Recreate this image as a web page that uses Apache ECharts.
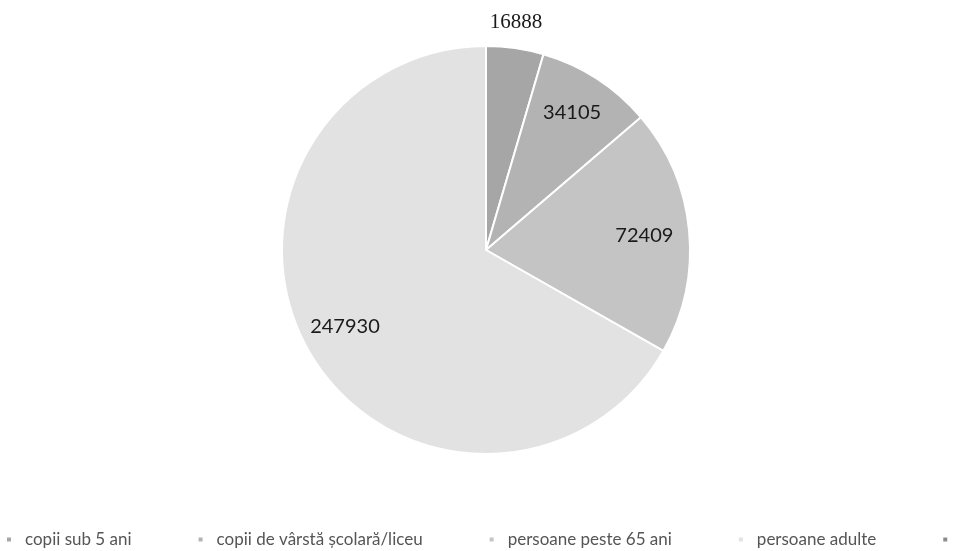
<!DOCTYPE html>
<html style="height: 100%">
    <head>
        <meta charset="utf-8">
        <title>Categorii populatie</title>
    </head>
    <body style="height: 100%; margin: 0; background: #fff">
        <div id="container" style="width: 959px; height: 551px"></div>

        <script type="text/javascript" src="https://cdn.jsdelivr.net/npm/echarts@6/dist/echarts.min.js"></script>
        <script type="text/javascript">
// categories and values
var categorii = ['copii sub 5 ani', 'copii de vârstă școlară/liceu', 'persoane peste 65 ani', 'persoane adulte', 'alte categorii'];
var valori = [16888, 34105, 72409, 247930, 0];
var culori = ['#a6a6a6', '#b3b3b3', '#c4c4c4', '#e2e2e2', '#8c8c8c'];

// label placement per slice (radial length / horizontal shift of the outside label)
var labelLen = [26, -40, -57, -51, 0];
var labelLen2 = [-34, -37, -22, -31, 0];
var labelFont = ['Liberation Serif', 'Lato', 'Lato', 'Lato', 'Lato'];

var dom = document.getElementById('container');
var myChart = echarts.init(dom, null, {renderer: 'canvas'});

var date = [];
for (var i = 0; i < categorii.length; i++) {
    date.push({
        name: categorii[i],
        value: valori[i],
        itemStyle: {color: culori[i]},
        label: {fontFamily: labelFont[i], fontSize: i == 0 ? 21 : 20},
        labelLine: {length: labelLen[i], length2: labelLen2[i]}
    });
}

var option = {
    animation: false,
    legend: {
        orient: 'horizontal',
        left: 0,
        top: 526,
        width: 2000,
        itemWidth: 6,
        itemHeight: 6,
        itemGap: 65,
        icon: 'rect',
        textStyle: {
            fontFamily: 'Lato',
            fontSize: 17,
            color: '#555',
            padding: [0, 0, 0, 8]
        },
        data: categorii
    },
    series: [{
        type: 'pie',
        center: [486, 250],
        radius: 204,
        startAngle: 90,
        clockwise: true,
        avoidLabelOverlap: false,
        minShowLabelAngle: 1,
        itemStyle: {
            borderColor: '#fff',
            borderWidth: 2
        },
        label: {
            show: true,
            position: 'outside',
            formatter: '{c}',
            color: '#1a1a1a',
            distanceToLabelLine: 5
        },
        labelLine: {show: false},
        emphasis: {disabled: true},
        data: date
    }]
};

myChart.setOption(option);
        </script>
    </body>
</html>
